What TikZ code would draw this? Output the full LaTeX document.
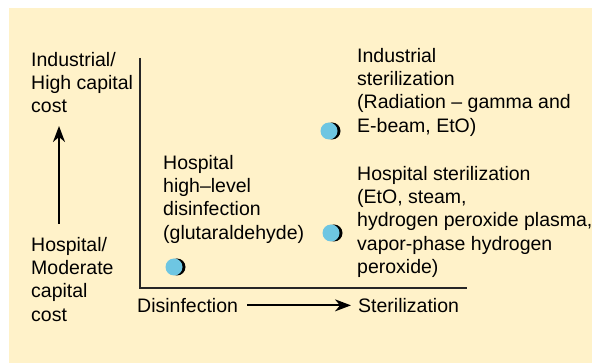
\documentclass[tikz,border=0pt]{standalone}
\usepackage{fontspec}
\setmainfont{Liberation Sans}
\usetikzlibrary{arrows.meta}

\definecolor{paper}{RGB}{255,242,201}
\definecolor{dotblue}{RGB}{110,198,226}

\begin{document}
\begin{tikzpicture}[x=1pt,y=-1pt]

      % Text blocks are hung from their top left corner, one line every 23.3pt
      \tikzstyle{blocktext}=[anchor=north west, inner sep=0pt, align=left, text=black, font=\fontsize{19.5}{23.3}\selectfont]
      \tikzstyle{axis}=[line width=2pt, draw=black!85]
      \tikzstyle{scalearrow}=[line width=1.8pt, -{Stealth[length=16pt,width=12pt,inset=5pt]}]
      % A dot is a blue disc laid over a black one that sits a little to the right
      \tikzstyle{dot}=[circle, fill=dotblue, minimum size=17pt, inner sep=0pt]
      \tikzstyle{rim}=[circle, fill=black, minimum size=17pt, inner sep=0pt]

      \def\rimoff{3}     % How far the dark rim sticks out on the right

      \useasboundingbox (0,0) rectangle (592,363);
      \fill[paper] (9,8) rectangle (592,363);

      % The two axes
      \coordinate (ytop) at (140,58);
      \coordinate (origin) at (140,288);
      \coordinate (xend) at (467,288);
      \draw[axis] (ytop) -- (origin) -- (xend);

      % Cost scale on the left
      \node[blocktext] (highcost) at (31,52) {Industrial/\\High capital\\cost};
      \node[blocktext] (lowcost) at (31,237) {Hospital/\\Moderate\\capital\\cost};
      \coordinate (costlow) at (59,224);
      \coordinate (costhigh) at (59,126);
      \draw[scalearrow] (costlow) -- (costhigh);

      % Process scale below the axis
      \node[blocktext] (disinf) at (137,298) {Disinfection};
      \node[blocktext] (steril) at (358,298) {Sterilization};
      \draw[scalearrow] ([xshift=9pt]disinf.east) -- ([xshift=-7pt]steril.west);

      % The three methods
      \node[blocktext] (hlevel) at (163,155) {Hospital\\high–level\\disinfection\\(glutaraldehyde)};
      \node[blocktext] (indster) at (357,48) {Industrial\\sterilization\\(Radiation – gamma and\\E-beam, EtO)};
      \node[blocktext] (hospster) at (357,166) {Hospital sterilization\\(EtO, steam,\\hydrogen peroxide plasma,\\vapor-phase hydrogen\\peroxide)};

      \node[rim] (hlevelrim) at (174+\rimoff,267) {};
      \node[dot] (hleveldot) at (174,267) {};
      \node[rim] (indsterrim) at (329+\rimoff,131) {};
      \node[dot] (indsterdot) at (329,131) {};
      \node[rim] (hospsterrim) at (331+\rimoff,233) {};
      \node[dot] (hospsterdot) at (331,233) {};

\end{tikzpicture}
\end{document}
